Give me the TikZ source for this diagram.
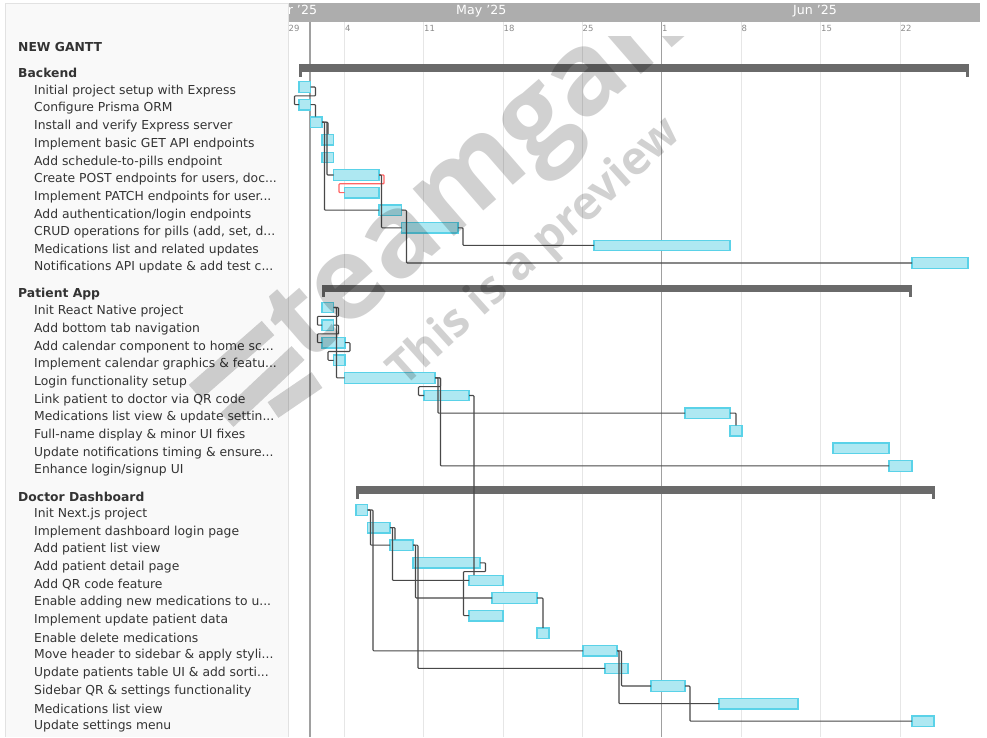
\documentclass[tikz,border=0pt]{standalone}
\usepackage{fontspec}
\setmainfont{DejaVu Sans}
\newfontfamily\wmfont{Open Sans}
\definecolor{panelbg}{HTML}{F9F9F9}
\definecolor{panelln}{HTML}{E2E2E2}
\definecolor{headbg}{HTML}{ADADAD}
\definecolor{gridln}{HTML}{E6E6E6}
\definecolor{todayln}{HTML}{A0A0A0}
\definecolor{barfill}{HTML}{AEE8F2}
\definecolor{barline}{HTML}{5AD2E8}
\definecolor{sumbar}{HTML}{6A6A6A}
\definecolor{depln}{HTML}{484848}
\definecolor{depred}{HTML}{FF6464}
\definecolor{txt}{HTML}{333333}
\tikzset{
  x=1pt,y=-1pt,
  lbl/.style={anchor=west,inner sep=0pt,yshift=-1pt,text=txt,font=\fontsize{12.35}{14}\selectfont},
  hdr/.style={anchor=west,inner sep=0pt,yshift=-1pt,text=txt,font=\fontsize{12.35}{14}\selectfont\bfseries},
  month/.style={anchor=west,inner sep=0pt,text=white,font=\fontsize{12.6}{15}\selectfont},
  daylbl/.style={anchor=west,inner sep=0pt,text=black!45,font=\fontsize{8.5}{10}\selectfont},
  grid/.style={draw=gridln,line width=1pt},
  mainln/.style={draw=todayln,line width=1.4pt},
  barbox/.style={rectangle,draw=barline,fill=barfill,line width=1.3pt,inner sep=0pt,outer sep=0pt,minimum height=10.5pt},
  sumbox/.style={rectangle,fill=sumbar,inner sep=0pt,outer sep=0pt,minimum height=7.5pt},
  dep/.style={draw=depln,line width=1.05pt,rounded corners=0.8pt},
  depr/.style={draw=depred,line width=1.2pt,rounded corners=0.8pt},
  wmark/.style={inner sep=0pt,text=black,text opacity=0.18},
  wbar/.style={black,opacity=0.18,line width=19pt},
}
\newcommand{\tbar}[4]{\node[barbox,minimum width={(#3-#2)*1pt}] (#1) at ({(#2+#3)/2},#4) {};}
\newcommand{\sbar}[4]{\node[sumbox,minimum width={(#3-#2)*1pt}] (#1) at ({(#2+#3)/2},#4) {};
  \fill[sumbar] (#2,#4) rectangle ++(3,8.5);
  \fill[sumbar] (#3,#4) rectangle ++(-3,8.5);}
\begin{document}
\begin{tikzpicture}
\useasboundingbox (0,0) rectangle (987,737);
\fill[white] (0,0) rectangle (987,737);
% header
\fill[headbg] (288,3) rectangle (980,22);
% grid
\foreach \gx in {288,344.5,423.5,503,582,741,820,900} {\draw[grid] (\gx,22) -- (\gx,737);}
\draw[mainln] (310,22) -- (310,737);
\draw[mainln] (661.5,22) -- (661.5,737);
% month and day labels
\node[month] (mapr) at (271,11.5) {Apr '25};
\fill[panelbg] (5,3) rectangle (288,737);
\draw[panelln,line width=0.8pt] (5,737) -- (5,3) -- (288,3) -- (288,737);
\node[month] (mmay) at (456,11.5) {May '25};
\node[month] (mjun) at (793,11.5) {Jun '25};
\node[daylbl] (d29) at (288.5,28.5) {29};
\node[daylbl] (d4) at (345,28.5) {4};
\node[daylbl] (d11) at (424,28.5) {11};
\node[daylbl] (d18) at (503.5,28.5) {18};
\node[daylbl] (d25) at (582.5,28.5) {25};
\node[daylbl] (d1) at (662,28.5) {1};
\node[daylbl] (d8) at (741.5,28.5) {8};
\node[daylbl] (d15) at (821,28.5) {15};
\node[daylbl] (d22) at (900.5,28.5) {22};
% left labels
\node[hdr] (tg) at (18,46) {NEW GANTT};
\node[hdr] (tb) at (18,72) {Backend};
\node[lbl] (tb1) at (34,90) {Initial project setup with Express};
\node[lbl] (tb2) at (34,107.5) {Configure Prisma ORM};
\node[lbl] (tb3) at (34,125) {Install and verify Express server};
\node[lbl] (tb4) at (34,143) {Implement basic GET API endpoints};
\node[lbl] (tb5) at (34,161) {Add schedule-to-pills endpoint};
\node[lbl] (tb6) at (34,178.5) {Create POST endpoints for users, doc...};
\node[lbl] (tb7) at (34,196) {Implement PATCH endpoints for user...};
\node[lbl] (tb8) at (34,214) {Add authentication/login endpoints};
\node[lbl] (tb9) at (34,231) {CRUD operations for pills (add, set, d...};
\node[lbl] (tb10) at (34,249) {Medications list and related updates};
\node[lbl] (tb11) at (34,266.5) {Notifications API update \& add test c...};
\node[hdr] (tp) at (18,293) {Patient App};
\node[lbl] (tp1) at (34,310.5) {Init React Native project};
\node[lbl] (tp2) at (34,328) {Add bottom tab navigation};
\node[lbl] (tp3) at (34,346) {Add calendar component to home sc...};
\node[lbl] (tp4) at (34,363.5) {Implement calendar graphics \& featu...};
\node[lbl] (tp5) at (34,381) {Login functionality setup};
\node[lbl] (tp6) at (34,399) {Link patient to doctor via QR code};
\node[lbl] (tp7) at (34,416.5) {Medications list view \& update settin...};
\node[lbl] (tp8) at (34,434.5) {Full-name display \& minor UI fixes};
\node[lbl] (tp9) at (34,452) {Update notifications timing \& ensure...};
\node[lbl] (tp10) at (34,469.5) {Enhance login/signup UI};
\node[hdr] (td) at (18,496) {Doctor Dashboard};
\node[lbl] (td1) at (34,513.5) {Init Next.js project};
\node[lbl] (td2) at (34,531) {Implement dashboard login page};
\node[lbl] (td3) at (34,548.5) {Add patient list view};
\node[lbl] (td4) at (34,566) {Add patient detail page};
\node[lbl] (td5) at (34,584) {Add QR code feature};
\node[lbl] (td6) at (34,601.5) {Enable adding new medications to u...};
\node[lbl] (td7) at (34,619) {Implement update patient data};
\node[lbl] (td8) at (34,636.5) {Enable delete medications};
\node[lbl] (td9) at (34,654.5) {Move header to sidebar \& apply styli...};
\node[lbl] (td10) at (34,672) {Update patients table UI \& add sorti...};
\node[lbl] (td11) at (34,690) {Sidebar QR \& settings functionality};
\node[lbl] (td12) at (34,707.5) {Medications list view};
\node[lbl] (td13) at (34,725) {Update settings menu};
% summary bars
\sbar{sb}{298.5}{968.5}{68}
\sbar{sp}{321.5}{912}{288.5}
\sbar{sd}{355.5}{934.5}{490}
% bars
\tbar{b1}{299}{310.5}{87}
\tbar{b2}{299}{310.5}{104.6}
\tbar{b3}{310.5}{322}{122.2}
\tbar{b4}{322}{333.5}{139.8}
\tbar{b5}{322}{333.5}{157.4}
\tbar{b6}{333.5}{379}{175}
\tbar{b7}{344.5}{379}{192.6}
\tbar{b8}{379}{401.5}{210.2}
\tbar{b9}{401.5}{458}{227.8}
\tbar{b10}{594}{730}{245.4}
\tbar{b11}{912}{968}{263}
\tbar{p1}{322}{333.5}{307.5}
\tbar{p2}{322}{333.5}{325.1}
\tbar{p3}{322}{345}{342.7}
\tbar{p4}{333.5}{345}{360.3}
\tbar{p5}{344.5}{435}{377.9}
\tbar{p6}{424}{469}{395.5}
\tbar{p7}{685}{730}{413.1}
\tbar{p8}{730}{742}{430.7}
\tbar{p9}{833}{889}{448.3}
\tbar{p10}{889}{912}{465.9}
\tbar{d1}{356}{367.5}{510}
\tbar{d2}{367.5}{390}{527.6}
\tbar{d3}{390}{413}{545.2}
\tbar{d4}{413}{480}{562.8}
\tbar{d5}{469}{503}{580.4}
\tbar{d6}{492}{537}{598}
\tbar{d7}{469}{503}{615.6}
\tbar{d8}{537}{549}{633.2}
\tbar{d9}{583}{617}{650.8}
\tbar{d10}{605}{628}{668.4}
\tbar{d11}{651}{685}{686}
\tbar{d12}{719}{798}{703.6}
\tbar{d13}{912}{934}{721.2}
% connectors: Backend
\draw[dep] (b1.east) -- ++(5,0) -- ++(0,8.8) -- ++(-21,0) |- (b2.west);
\draw[dep] (b2.east) -- ++(5,0) -- ++(0,12);
\draw[dep] (b3.east) -- ++(5,0) |- (b6.west);
\draw[dep] (b3.east) -- ++(2.5,0) |- (b8.west);
\draw[dep] (b3.east) -- ++(6,0) -- ++(0,12);
\draw[depr] (b6.east) -- ++(5,0) -- ++(0,8.8) -- ++(-45,0) |- (b7.west);
\draw[dep] (b6.east) -- ++(2.5,0) |- (b9.west);
\draw[dep] (b8.east) -- ++(5,0) |- (b11.west);
\draw[dep] (b9.east) -- ++(5,0) |- (b10.west);
% connectors: Patient
\draw[dep] (p1.east) -- ++(5,0) -- ++(0,8.8) -- ++(-21,0) |- (p2.west);
\draw[dep] (p2.east) -- ++(5,0) -- ++(0,8.8) -- ++(-21,0) |- (p3.west);
\draw[dep] (p1.east) -- ++(3,0) |- (p5.west);
\draw[dep] (p3.east) -- ++(5,0) -- ++(0,8.8) -- ++(-22,0) |- (p4.west);
\draw[dep] (p5.east) -- ++(5.5,0) -- ++(0,8.8) -- ++(-22,0) |- (p6.west);
\draw[dep] (p5.east) -- ++(3,0) |- (p7.west);
\draw[dep] (p5.east) -- ++(5.5,0) |- (p10.west);
\draw[dep] (p6.east) -- ++(5,0) -- ++(0,179.5);
\draw[dep] (p7.east) -| (p8.north);
% connectors: Doctor
\draw[dep] (d1.east) -- ++(3,0) |- (d3.west);
\draw[dep] (d1.east) -- ++(5.5,0) |- (d9.west);
\draw[dep] (d2.east) -- ++(5,0) -- ++(0,12);
\draw[dep] (d2.east) -- ++(2.5,0) |- (d5.west);
\draw[dep] (d3.east) -- ++(5,0) |- (d10.west);
\draw[dep] (d3.east) -- ++(2.5,0) |- (d6.west);
\draw[dep] (d4.east) -- ++(5.5,0) -- ++(0,8.8) -- ++(-22,0) |- (d7.west);
\draw[dep] (d6.east) -| (d8.north);
\draw[dep] (d9.east) -- ++(4.5,0) |- (d11.west);
\draw[dep] (d9.east) -- ++(2,0) |- (d12.west);
\draw[dep] (d11.east) -- ++(5,0) |- (d13.west);
% watermark
\begin{scope}
\clip (0,36) rectangle (987,737);
\node[wmark,rotate=41,anchor=base west,font=\fontsize{115}{115}\selectfont\wmfont\bfseries] (wm) at (306,366) {teamgantt};
\node[wmark,rotate=42,anchor=base west,font=\fontsize{46}{46}\selectfont\wmfont\bfseries] (wp) at (404,388) {This is a preview};
\draw[wbar] (195,392) -- (268,328);
\draw[wbar] (227,420) -- (298,353);
\draw[wbar] (273,410) -- (317,380);
\end{scope}
\end{tikzpicture}
\end{document}
